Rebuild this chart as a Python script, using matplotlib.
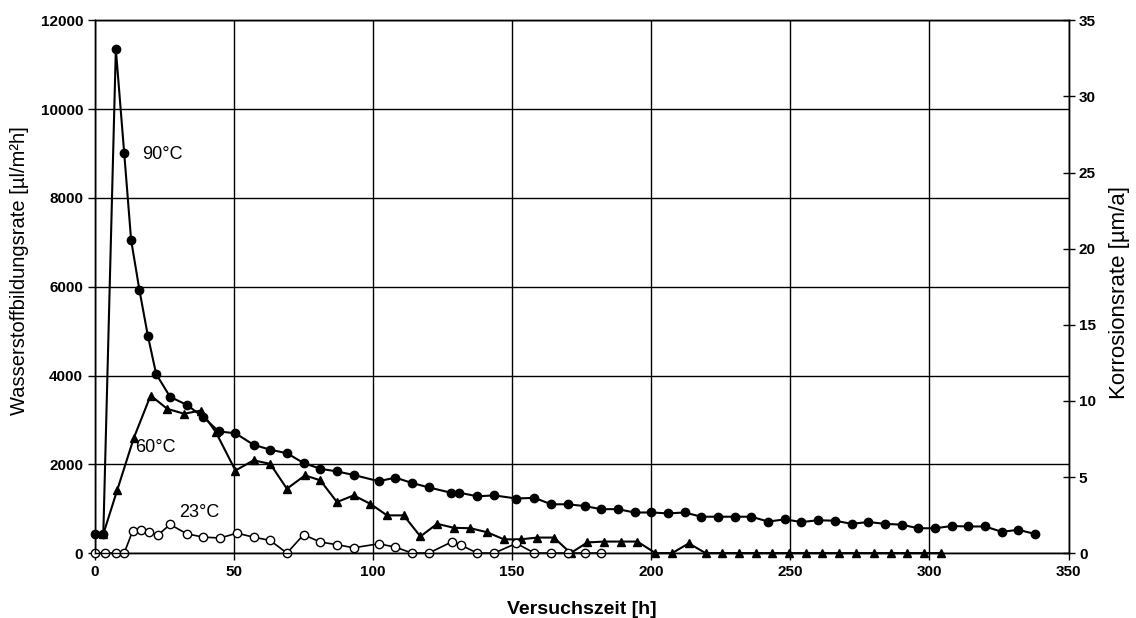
import matplotlib.pyplot as plt

plt.rcParams['font.family'] = ['Liberation Sans', 'DejaVu Sans']

t_90 = [0, 3, 7.5, 10.5, 13, 16, 19, 22, 27, 33, 39, 44.5, 50.5, 57, 63, 69, 75, 81, 87, 93,
        102, 108, 114, 120, 128, 131, 137.5, 143.5, 151.5, 158, 164, 170, 176, 182, 188, 194,
        200, 206, 212, 218, 224, 230, 236, 242, 248, 254, 260, 266, 272, 278, 284, 290, 296,
        302, 308, 314, 320, 326, 332, 338]
h2_90 = [430, 430, 11350, 9020, 7050, 5920, 4900, 4035, 3520, 3340, 3060, 2740, 2700, 2440,
         2330, 2250, 2030, 1900, 1840, 1760, 1620, 1700, 1580, 1480, 1360, 1360, 1280, 1300,
         1230, 1245, 1100, 1100, 1060, 990, 990, 915, 915, 895, 915, 820, 820, 820, 820, 710,
         760, 700, 740, 730, 660, 700, 660, 640, 560, 560, 610, 600, 600, 480, 525, 430]

t_60 = [3, 8, 14, 20, 26, 32, 38, 43.5, 50.5, 57, 63, 69, 75.5, 81, 87, 93, 99, 105, 111, 117,
        123, 129, 135, 141, 147, 153, 159, 165, 171, 177, 183, 189, 195, 201.5, 207.5, 213.5,
        219.5, 225.5, 231.5, 237.5, 243.5, 249.5, 255.5, 261.5, 267.5, 273.5, 280, 286, 292,
        298, 304]
h2_60 = [430, 1420, 2600, 3550, 3250, 3140, 3210, 2720, 1860, 2090, 2010, 1450, 1750, 1640,
         1150, 1300, 1110, 850, 850, 375, 660, 570, 560, 470, 310, 310, 350, 350, 0, 240, 260,
         260, 260, 0, 0, 220, 0, 0, 0, 0, 0, 0, 0, 0, 0, 0, 0, 0, 0, 0, 0]

t_23 = [0, 3.5, 7.5, 10.5, 13.5, 16.5, 19.5, 22.5, 27, 33, 39, 45, 51, 57, 63, 69, 75, 81, 87,
        93, 102, 108, 114, 120, 128.5, 131.5, 137.5, 143.5, 151.5, 158, 164, 170, 176, 182]
h2_23 = [0, 0, 0, 0, 490, 510, 475, 400, 645, 435, 360, 340, 450, 360, 285, 0, 415, 250, 190,
         120, 210, 135, 0, 0, 260, 180, 0, 0, 220, 0, 0, 0, 0, 0]

fig = plt.figure(figsize=(11.36, 6.18), dpi=100)
ax = fig.add_axes([0.0836, 0.105, 0.857, 0.862])

ax.plot(t_60, h2_60, color='black', lw=1.5, marker='^', ms=6, zorder=3, clip_on=False)
ax.plot(t_90, h2_90, color='black', lw=1.5, marker='o', ms=6, zorder=4, clip_on=False)
ax.plot(t_23, h2_23, color='black', lw=1.2, marker='o', ms=6, mfc='white', mec='black',
        zorder=5, clip_on=False)

ax.text(17, 8980, '90°C', fontsize=13, va='center')
ax.text(14.3, 2370, '60°C', fontsize=13, va='center')
ax.text(30.3, 920, '23°C', fontsize=13, va='center')

ax.set_xlim(0, 350)
ax.set_ylim(0, 12000)
ax.set_xticks(range(0, 351, 50))
ax.set_yticks(range(0, 12001, 2000))
ax.grid(True, color='black', lw=1)
ax.set_axisbelow(True)
ax.tick_params(labelsize=11, direction='out', length=5, width=1)
for lab in ax.get_xticklabels() + ax.get_yticklabels():
    lab.set_fontweight('bold')
ax.set_xlabel('Versuchszeit [h]', fontsize=14, fontweight='bold', labelpad=16)
ax.set_ylabel('Wasserstoffbildungsrate [µl/m²h]', fontsize=14.5)
ax.yaxis.set_label_coords(-0.068, 0.53)

ax2 = ax.twinx()
ax2.set_ylim(0, 12000 / 342.86)
ax2.set_yticks(range(0, 36, 5))
ax2.tick_params(labelsize=11, direction='inout', length=8, width=1)
for lab in ax2.get_yticklabels():
    lab.set_fontweight('bold')
ax2.set_ylabel('Korrosionsrate [µm/a]', fontsize=16)
ax2.yaxis.set_label_coords(1.042, 0.49)

for a in (ax, ax2):
    for s in a.spines.values():
        s.set_linewidth(1)
        s.set_color('black')

fig.savefig('out.png', dpi=100)
